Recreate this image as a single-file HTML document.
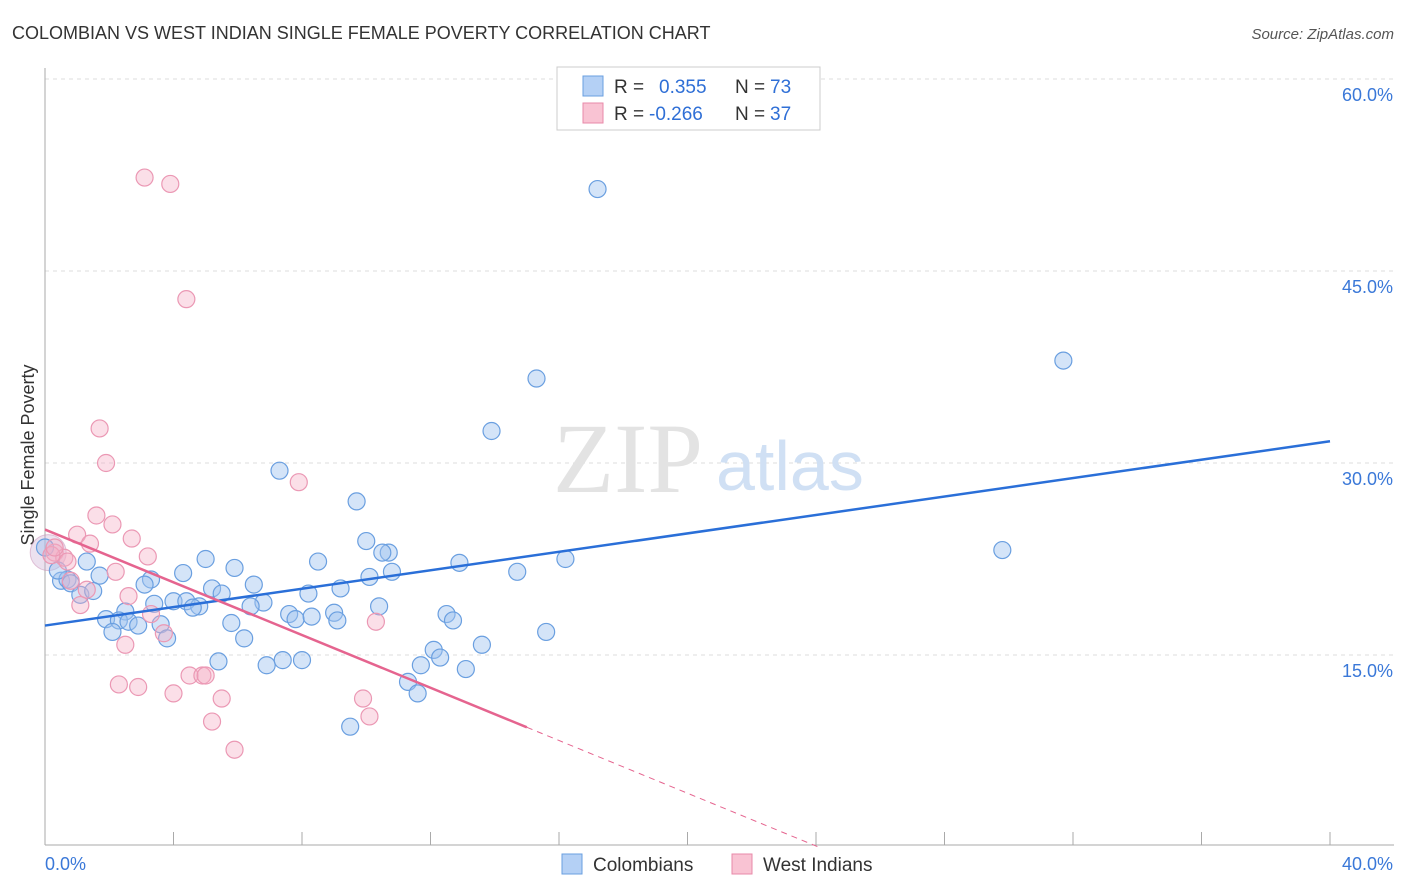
<!DOCTYPE html>
<html><head><meta charset="utf-8"><style>
body{margin:0;background:#fff;font-family:"Liberation Sans",sans-serif;}
svg{display:block}
</style></head><body>
<svg id="chart" width="1406" height="892">
<text x="12" y="39" font-size="18" fill="#333">COLOMBIAN VS WEST INDIAN SINGLE FEMALE POVERTY CORRELATION CHART</text>
<text x="1394" y="39" font-size="15" fill="#555" font-style="italic" text-anchor="end">Source: ZipAtlas.com</text>
<text x="0" y="0" transform="translate(34,455) rotate(-90)" font-size="18" fill="#333" text-anchor="middle">Single Female Poverty</text>
<g id="grid"></g>
<text x="553" y="492" font-size="100" fill="#e3e3e3" font-family="Liberation Serif,serif">ZIP</text>
<text x="716" y="490" font-size="70" fill="#d0e0f4">atlas</text>
<g id="points"></g>
<g id="lines"></g>
<g>
<rect x="557" y="67" width="263" height="63" fill="#fff" stroke="#ccc"/>
<rect x="583" y="76" width="20" height="20" fill="#b4d0f5" stroke="#6a9fe0"/>
<rect x="583" y="103" width="20" height="20" fill="#f9c3d3" stroke="#e88aa8"/>
<text x="614" y="93" font-size="19" fill="#333">R =</text>
<text x="659" y="93" font-size="19" fill="#2f6fd6">0.355</text>
<text x="735" y="93" font-size="19" fill="#333">N =</text>
<text x="770" y="93" font-size="19" fill="#2f6fd6">73</text>
<text x="614" y="120" font-size="19" fill="#333">R =</text>
<text x="649" y="120" font-size="19" fill="#2f6fd6">-0.266</text>
<text x="735" y="120" font-size="19" fill="#333">N =</text>
<text x="770" y="120" font-size="19" fill="#2f6fd6">37</text>
</g>
<g>
<rect x="562" y="854" width="20" height="20" fill="#b4d0f5" stroke="#6a9fe0"/>
<text x="593" y="871" font-size="19" fill="#333">Colombians</text>
<rect x="732" y="854" width="20" height="20" fill="#f9c3d3" stroke="#e88aa8"/>
<text x="763" y="871" font-size="19" fill="#333">West Indians</text>
</g>
</svg>
<script>
const yTicks=[15,30,45,60];
const yTickLabels=["15.0%","30.0%","45.0%","60.0%"];
const xTickLabels=["0.0%","40.0%"];
const blueX=[17.2,31.7,15.3,13.9,7.3,9.7,29.8,10.0,10.7,10.5,16.2,14.7,12.9,8.5,5.0,5.9,1.3,4.3,3.3,1.7,3.1,0.5,0.7,0.8,5.2,5.5,6.5,9.2,10.1,10.8,1.1,1.5,8.2,4.0,4.4,4.8,4.6,6.8,6.4,10.4,3.4,2.5,7.6,7.8,8.3,9.0,9.1,12.5,12.7,1.9,2.3,2.6,2.9,3.6,5.8,2.1,3.8,6.2,15.6,13.6,12.1,12.3,11.7,13.1,5.4,6.9,7.4,8.0,11.3,11.6,9.5,0.0,0.4];
const blueY=[51.4,38.0,36.6,32.5,29.4,27.0,23.2,23.9,23.0,23.0,22.5,21.5,22.2,22.3,22.5,21.8,22.3,21.4,20.9,21.2,20.5,20.8,20.9,20.6,20.2,19.8,20.5,20.2,21.1,21.5,19.7,20.0,19.8,19.2,19.2,18.8,18.7,19.1,18.8,18.8,19.0,18.4,18.2,17.8,18.0,18.3,17.7,18.2,17.7,17.8,17.7,17.6,17.3,17.4,17.5,16.8,16.3,16.3,16.8,15.8,15.4,14.8,14.2,13.9,14.5,14.2,14.6,14.6,12.9,12.0,9.4,23.4,21.6];
const pinkX=[3.1,3.9,4.4,1.7,1.9,7.9,1.6,2.1,1.0,2.7,1.4,3.2,0.3,0.6,0.7,2.2,0.8,1.3,2.6,1.1,3.3,3.7,2.5,10.3,2.3,2.9,4.5,4.9,5.0,4.0,5.5,9.9,5.2,10.1,5.9,0.2,0.3];
const pinkY=[52.3,51.8,42.8,32.7,30.0,28.5,25.9,25.2,24.4,24.1,23.7,22.7,23.0,22.6,22.3,21.5,20.8,20.1,19.6,18.9,18.2,16.7,15.8,17.6,12.7,12.5,13.4,13.4,13.4,12.0,11.6,11.6,9.8,10.2,7.6,22.8,23.4];
const blueFit=[17.3,31.7];
const pinkFit=[24.8,-1.03];
const X0=45,X1=1330,Y0=847;
const sx=v=>X0+v*(X1-X0)/40;
const sy=v=>Y0-v*12.8;
const NS="http://www.w3.org/2000/svg";
function mk(t,a,p){const e=document.createElementNS(NS,t);for(const k in a)e.setAttribute(k,a[k]);p.appendChild(e);return e;}
const grid=document.getElementById('grid');
yTicks.forEach((v,i)=>{
 const l=mk('line',{x1:X0,x2:1394,y1:sy(v),y2:sy(v),stroke:'#ddd','stroke-dasharray':'4,4'},grid);
 
 
 const t=mk('text',{x:1393,y:sy(v)+22,'font-size':18,fill:'#3a78d8','text-anchor':'end'},grid);
 t.textContent=yTickLabels[i];
 
 
});
const ax=mk('line',{x1:X0,x2:X0,y1:68,y2:845,stroke:'#aaa'},grid);


const bx=mk('line',{x1:X0,x2:1394,y1:845,y2:845,stroke:'#aaa'},grid);


for(let i=0;i<=10;i++){
 const t=mk('line',{x1:sx(i*4),x2:sx(i*4),y1:832,y2:845,stroke:'#aaa'},grid);
 
 
}
[[0,'start'],[40,'end']].forEach((d,i)=>{
 const t=mk('text',{x:i?1393:45,y:870,'font-size':18,fill:'#3a78d8','text-anchor':d[1]},grid);
 t.textContent=xTickLabels[i];
 
 
});
const pts=document.getElementById('points');
const big=mk('circle',{cx:sx(0.1),cy:sy(23.0),r:18,fill:'rgba(200,170,210,0.35)',stroke:'rgba(200,140,180,0.5)'},pts);


blueX.forEach((v,i)=>{
 const c=mk('circle',{cx:sx(v),cy:sy(blueY[i]),r:8.5,fill:'rgba(160,195,240,0.45)',stroke:'#6a9fe0','stroke-width':1.2},pts);
 
 
});
pinkX.forEach((v,i)=>{
 const c=mk('circle',{cx:sx(v),cy:sy(pinkY[i]),r:8.5,fill:'rgba(245,175,198,0.4)',stroke:'#eb98b4','stroke-width':1.2},pts);
 
 
});
const ln=document.getElementById('lines');
const b=mk('line',{x1:sx(0),y1:sy(blueFit[0]),x2:sx(40),y2:sy(blueFit[1]),stroke:'#2a6fd8','stroke-width':2.5},ln);


const pf=x=>pinkFit[0]+pinkFit[1]*x;
const xEnd=-pinkFit[0]/pinkFit[1];
const p=mk('line',{x1:sx(0),y1:sy(pf(0)),x2:sx(15),y2:sy(pf(15)),stroke:'#e5648f','stroke-width':2.5},ln);


const pd=mk('line',{x1:sx(15),y1:sy(pf(15)),x2:sx(xEnd),y2:sy(0),stroke:'#e5648f','stroke-width':1,'stroke-dasharray':'6,5'},ln);


</script>
</body></html>
